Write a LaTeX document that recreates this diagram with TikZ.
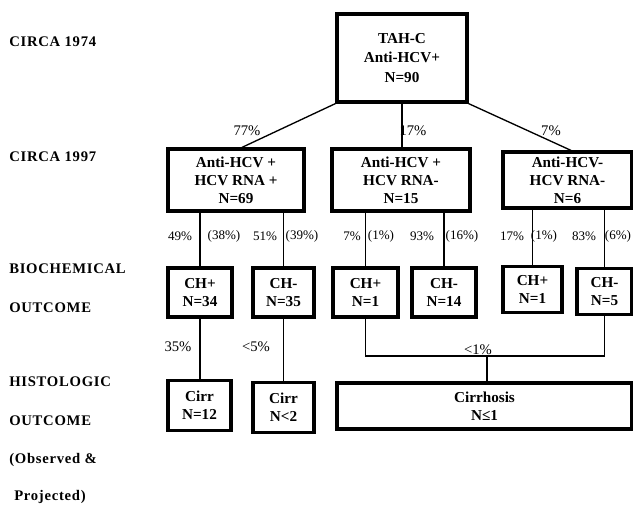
\documentclass[tikz,border=0pt]{standalone}
\usepackage{fontspec}
\setmainfont{Liberation Serif}
\usetikzlibrary{calc}
\begin{document}
\begin{tikzpicture}[x=0.75pt,y=-0.75pt,
  box/.style={draw,line width=2.4pt,inner sep=0pt,align=center,font=\bfseries\fontsize{11.4}{13.6}\selectfont},
  lvl/.style={anchor=west,inner sep=0pt,font=\bfseries\fontsize{11}{13}\selectfont\addfontfeature{LetterSpace=5}},
  pct/.style={inner sep=0pt,font=\fontsize{11}{13}\selectfont},
  spct/.style={inner sep=0pt,font=\fontsize{9.8}{12}\selectfont},
  conn/.style={line width=1pt}]
\useasboundingbox (0,0) rectangle (633,506);
% level labels
\node[lvl] (l1) at (9,42) {CIRCA 1974};
\node[lvl] (l2) at (9,157) {CIRCA 1997};
\node[lvl] (l3) at (9,269) {BIOCHEMICAL};
\node[lvl] (l4) at (9,308) {OUTCOME};
\node[lvl] (l5) at (9,382) {HISTOLOGIC};
\node[lvl] (l6) at (9,421) {OUTCOME};
\node[lvl] (l7) at (9,460) {(Observed \&};
\node[lvl] (l8) at (14,497) {Projected)};
% boxes
\node[box,minimum width=130*0.75pt,minimum height=88*0.75pt] (top) at (402,58) {TAH-C\\[1pt]Anti-HCV+\\[1pt]N=90};
\node[box,minimum width=136*0.75pt,minimum height=62*0.75pt] (b1) at (236,180) {Anti-HCV +\\HCV RNA +\\N=69};
\node[box,minimum width=138*0.75pt,minimum height=62*0.75pt] (b2) at (401,180) {Anti-HCV +\\HCV RNA-\\N=15};
\node[box,minimum width=129*0.75pt,minimum height=56*0.75pt] (b3) at (567.5,180) {Anti-HCV-\\HCV RNA-\\N=6};
\node[box,minimum width=64*0.75pt,minimum height=49*0.75pt] (c1) at (200,292.5) {CH+\\N=34};
\node[box,minimum width=61*0.75pt,minimum height=49*0.75pt] (c2) at (283.5,292.5) {CH-\\N=35};
\node[box,minimum width=65*0.75pt,minimum height=49*0.75pt] (c3) at (365.5,292.5) {CH+\\N=1};
\node[box,minimum width=64*0.75pt,minimum height=49*0.75pt] (c4) at (444,292.5) {CH-\\N=14};
\node[box,minimum width=59*0.75pt,minimum height=46*0.75pt] (c5) at (532.5,289.5) {CH+\\N=1};
\node[box,minimum width=55*0.75pt,minimum height=46*0.75pt] (c6) at (604.5,291.5) {CH-\\N=5};
\node[box,minimum width=63*0.75pt,minimum height=50*0.75pt] (d1) at (199.5,405.5) {Cirr\\N=12};
\node[box,minimum width=61*0.75pt,minimum height=50*0.75pt] (d2) at (283.5,407.5) {Cirr\\N<2};
\node[box,minimum width=295*0.75pt,minimum height=46*0.75pt] (d3) at (484.5,406) {Cirrhosis\\N≤1};
% connectors
\draw[conn] (top.south west) -- ([xshift=6*0.75pt]b1.north);
\draw[conn] (top.south) -- (top.south |- b2.north);
\draw[conn] (top.south east) -- ([xshift=3.5*0.75pt]b3.north);
\draw[conn] (c1.north |- b1.south) -- (c1.north);
\draw[conn] (c2.north |- b1.south) -- (c2.north);
\draw[conn] (c3.north |- b2.south) -- (c3.north);
\draw[conn] (c4.north |- b2.south) -- (c4.north);
\draw[conn] (c5.north |- b3.south) -- (c5.north);
\draw[conn] (c6.north |- b3.south) -- (c6.north);
\draw[conn] (c1.south) -- (c1.south |- d1.north);
\draw[conn] (c2.south) -- (c2.south |- d2.north);
\coordinate (j) at (487,356);
\draw[conn] (c3.south) |- (j) -| (c6.south);
\draw[conn] (j) -- (j |- d3.north);
% labels
\node[pct] (p1) at (247,131) {77\%};
\node[pct] (p2) at (413,131) {17\%};
\node[pct] (p3) at (551,131) {7\%};
\node[spct] (q1) at (180,236) {49\%};
\node[spct] (q2) at (224,236) {(38\%)};
\node[spct] (q3) at (265,236) {51\%};
\node[spct] (q4) at (302,236) {(39\%)};
\node[spct] (q5) at (352,236) {7\%};
\node[spct] (q6) at (381,236) {(1\%)};
\node[spct] (q7) at (422,236) {93\%};
\node[spct] (q8) at (462,236) {(16\%)};
\node[spct] (q9) at (512,236) {17\%};
\node[spct] (q10) at (544,236) {(1\%)};
\node[spct] (q11) at (584,236) {83\%};
\node[spct] (q12) at (618,236) {(6\%)};
\node[pct] (r1) at (178,347) {35\%};
\node[pct] (r2) at (256,347) {<5\%};
\node[pct] (r3) at (478,350) {<1\%};
\end{tikzpicture}
\end{document}
